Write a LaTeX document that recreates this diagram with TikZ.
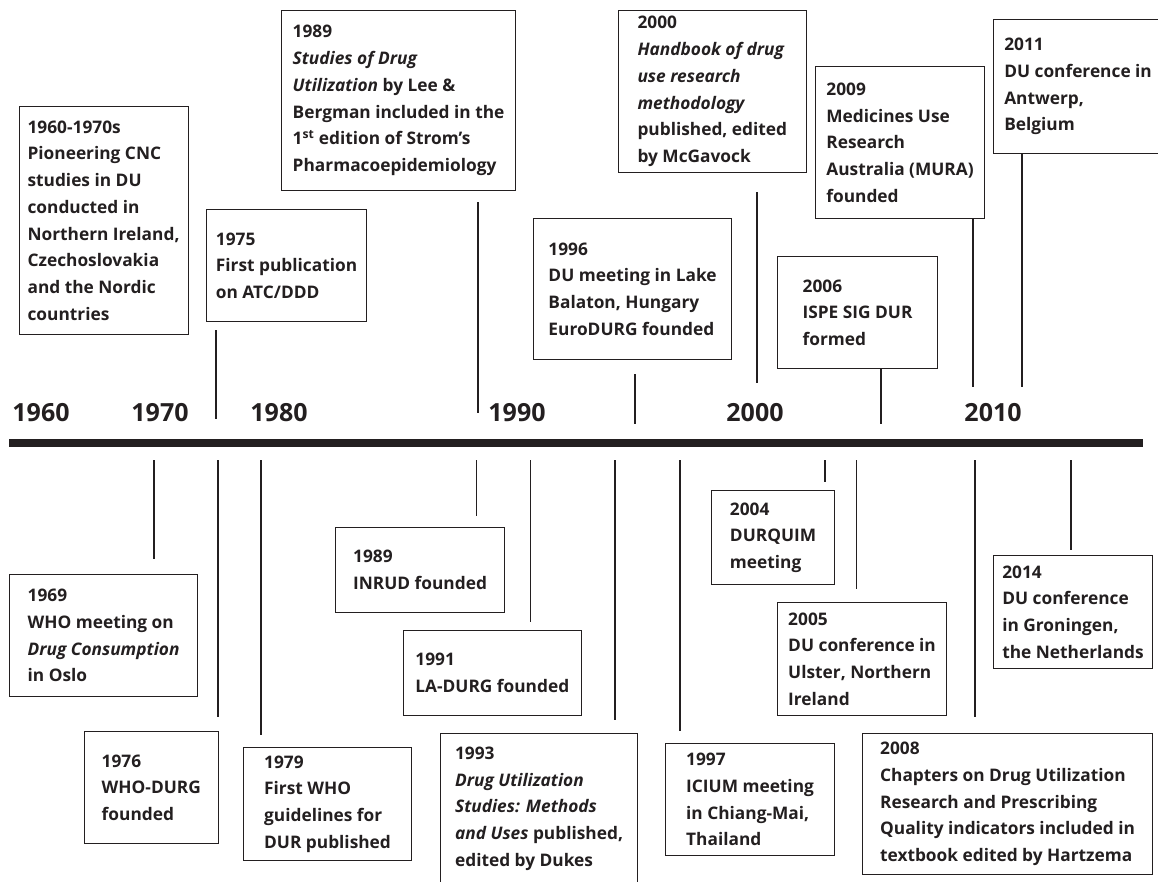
\documentclass[tikz,border=0pt]{standalone}
\usepackage{fontspec}
\setmainfont{Open Sans}
\definecolor{ink}{HTML}{231F20}

\begin{document}
\begin{tikzpicture}[x=1pt,y=-1pt,
  event/.style = {draw=ink, line width=1.1pt, anchor=north west, align=left, inner sep=0pt, text=ink, font=\fontsize{17.3}{26.7}\selectfont\bfseries},
  decade/.style = {anchor=base, inner sep=0pt, text=ink, font=\fontsize{25}{30}\selectfont\bfseries},
  stem/.style = {draw=ink, line width=1.1pt},]
\useasboundingbox (0,0) rectangle (1158,881);
\clip (0,0) rectangle (1158,881);
\coordinate (axl) at (9,443);
\coordinate (axr) at (1143,443);
\draw[ink, line width=7.3pt] (axl) -- (axr);
\node (d1960) at (41,421)[decade] {1960};
\node (d1970) at (160,421)[decade] {1970};
\node (d1980) at (279,421)[decade] {1980};
\node (d1990) at (517,421)[decade] {1990};
\node (d2000) at (755,421)[decade] {2000};
\node (d2010) at (993,421)[decade] {2010};
\node (b1960) at (18.5,106)[event,minimum width=169pt,minimum height=228pt] {1960-1970s\\Pioneering CNC\\studies in DU\\conducted in\\Northern Ireland,\\Czechoslovakia\\and the Nordic\\countries};
\node (b1975) at (206,209)[event,minimum width=160pt,minimum height=112pt] {1975\\First publication\\on ATC/DDD};
\node (b1989s) at (281,10)[event,minimum width=234pt,minimum height=180pt] {1989\\\textit{Studies of Drug}\\\textit{Utilization} by Lee \&\\Bergman included in the\\1\textsuperscript{st} edition of Strom’s\\Pharmacoepidemiology};
\node (b1996) at (533,218)[event,minimum width=198pt,minimum height=141pt] {1996\\DU meeting in Lake\\Balaton, Hungary\\EuroDURG founded};
\node (b2000) at (618,10)[event,minimum width=187.5pt,minimum height=162pt] {2000\\\textit{Handbook of drug}\\\textit{use research}\\\textit{methodology}\\published, edited\\by McGavock};
\node (b2006) at (777,256)[event,minimum width=160pt,minimum height=112pt] {2006\\ISPE SIG DUR\\formed};
\node (b2009) at (815,66)[event,minimum width=169pt,minimum height=152pt] {2009\\Medicines Use\\Research\\Australia (MURA)\\founded};
\node (b2011) at (993,19)[event,minimum width=169pt,minimum height=134pt] {2011\\DU conference in\\Antwerp,\\Belgium};
\node (b1969) at (9,574)[event,minimum width=188pt,minimum height=122pt] {1969\\WHO meeting on\\\textit{Drug Consumption}\\in Oslo};
\node (b1976) at (84,731)[event,minimum width=133.5pt,minimum height=112pt] {1976\\WHO-DURG\\founded};
\node (b1979) at (243,747)[event,minimum width=168pt,minimum height=113pt] {1979\\First WHO\\guidelines for\\DUR published};
\node (b1989i) at (335,527)[event,minimum width=169pt,minimum height=85pt] {1989\\INRUD founded};
\node (b1991) at (402.5,630)[event,minimum width=178.5pt,minimum height=84.5pt] {1991\\LA-DURG founded};
\node (b1993) at (440,733)[event,minimum width=197pt,minimum height=150pt] {1993\\\textit{Drug Utilization}\\\textit{Studies: Methods}\\\textit{and Uses} published,\\edited by Dukes};
\node (b1997) at (665,743)[event,minimum width=169pt,minimum height=112pt] {1997\\ICIUM meeting\\in Chiang-Mai,\\Thailand};
\node (b2004) at (711,490)[event,minimum width=123pt,minimum height=94pt] {2004\\DURQUIM\\meeting};
\node (b2005) at (777,602)[event,minimum width=169pt,minimum height=113pt] {2005\\DU conference in\\Ulster, Northern\\Ireland};
\node (b2008) at (862,733)[event,minimum width=290pt,minimum height=141pt] {2008\\Chapters on Drug Utilization\\Research and Prescribing\\Quality indicators included in\\textbook edited by Hartzema};
\node (b2014) at (993,555)[event,minimum width=159pt,minimum height=113pt] {2014\\DU conference\\in Groningen,\\the Netherlands};
\coordinate (t1975) at (216,419);
\coordinate (t1989s) at (478,413);
\coordinate (t1996) at (635,424);
\coordinate (t2000) at (757,383);
\coordinate (t2006) at (881,424);
\coordinate (t2009) at (973,387);
\coordinate (t2011) at (1022,387);
\coordinate (t1969) at (154,460);
\coordinate (t1976) at (218,460);
\coordinate (t1979) at (261,460);
\coordinate (t1989i) at (476.5,460);
\coordinate (t1991) at (530.5,460);
\coordinate (t1993) at (615,460);
\coordinate (t1997) at (680,460);
\coordinate (t2004) at (825,460);
\coordinate (t2005) at (856.5,460);
\coordinate (t2008) at (975,460);
\coordinate (t2014) at (1071,460);
\draw[stem,shorten <=8pt] (t1975 |- b1975.south) -- (t1975);
\draw[stem,shorten <=11pt] (t1989s |- b1989s.south) -- (t1989s);
\draw[stem,shorten <=14pt] (t1996 |- b1996.south) -- (t1996);
\draw[stem,shorten <=19pt] (t2000 |- b2000.south) -- (t2000);
\draw[stem] (t2006 |- b2006.south) -- (t2006);
\draw[stem] (t2009 |- b2009.south) -- (t2009);
\draw[stem] (t2011 |- b2011.south) -- (t2011);
\draw[stem,shorten >=15pt] (t1969) -- (t1969 |- b1969.north);
\draw[stem,shorten >=14pt] (t1976) -- (t1976 |- b1976.north);
\draw[stem,shorten >=12pt] (t1979) -- (t1979 |- b1979.north);
\draw[stem,shorten >=11pt] (t1989i) -- (t1989i |- b1989i.north);
\draw[stem,shorten >=8pt] (t1991) -- (t1991 |- b1991.north);
\draw[stem,shorten >=13pt] (t1993) -- (t1993 |- b1993.north);
\draw[stem,shorten >=12pt] (t1997) -- (t1997 |- b1997.north);
\draw[stem,shorten >=8pt] (t2004) -- (t2004 |- b2004.north);
\draw[stem,shorten >=13pt] (t2005) -- (t2005 |- b2005.north);
\draw[stem,shorten >=16pt] (t2008) -- (t2008 |- b2008.north);
\draw[stem,shorten >=5pt] (t2014) -- (t2014 |- b2014.north);
\end{tikzpicture}
\end{document}
